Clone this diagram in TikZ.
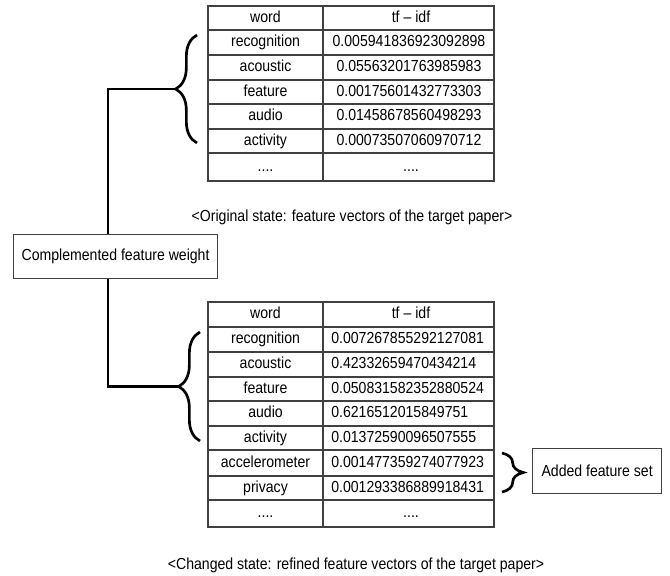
\documentclass[tikz,border=0pt]{standalone}
\usepackage{fontspec}
\setmainfont[FakeStretch=0.88]{Liberation Sans}
\usetikzlibrary{decorations.pathreplacing}
\begin{document}
\begin{tikzpicture}[x=0.75pt,y=-0.75pt,
  grid/.style={draw=black!75, line width=0.9pt},
  cell/.style={inner sep=0pt, text height=9pt, text depth=2.5pt, font=\fontsize{12}{14}\selectfont},
  captext/.style={inner sep=0pt, font=\fontsize{12}{14}\selectfont},
  bracefig/.style={decorate, decoration={brace, amplitude=16pt}, line width=2pt},
  link/.style={line width=1.8pt, line join=miter},
  box/.style={draw=black!75, fill=white, line width=0.9pt, anchor=north west, inner sep=0pt, font=\fontsize{12}{14}\selectfont}]
\useasboundingbox (0,0) rectangle (670,575);

% ---------- top table ----------
\draw[grid] (208,6) rectangle (494,181);
\draw[grid] (323,6) -- (323,181);
\foreach \y in {30,55,80,104,129,153} \draw[grid] (208,\y) -- (494,\y);
\node[cell] (ta0) at (265.5,18) {word};
\node[cell] (tb0) at (411,18) {tf – idf};
\foreach \n/\y/\w/\v in {1/42.5/recognition/0.005941836923092898,
                          2/67.5/acoustic/0.05563201763985983,
                          3/92/feature/0.00175601432773303,
                          4/116.5/audio/0.01458678560498293,
                          5/141/activity/0.00073507060970712}{
  \node[cell] (ta\n) at (265.5,\y) {\w};
  \node[cell] (tb\n) at (409,\y) {\v};
}
\node[cell] (ta6) at (265.5,167) {....};
\node[cell] (tb6) at (411,167) {....};

% ---------- bottom table ----------
\draw[grid] (208,302) rectangle (494,527);
\draw[grid] (323,302) -- (323,527);
\foreach \y in {327,352,377,401,426,450,476,500} \draw[grid] (208,\y) -- (494,\y);
\node[cell] (ba0) at (265.5,314.5) {word};
\node[cell] (bb0) at (411,314.5) {tf – idf};
\foreach \n/\y/\w/\v in {1/339.5/recognition/0.007267855292127081,
                          2/364.5/acoustic/0.42332659470434214,
                          3/389/feature/0.050831582352880524,
                          4/413.5/audio/0.6216512015849751,
                          5/438/activity/0.01372590096507555,
                          6/463/accelerometer/0.001477359274077923,
                          7/488/privacy/0.001293386889918431}{
  \node[cell] (ba\n) at (265.5,\y) {\w};
  \node[cell, anchor=west] (bb\n) at (331,\y) {\v};
}
\node[cell] (ba8) at (265.5,513.5) {....};
\node[cell] (bb8) at (411,513.5) {....};

% ---------- captions ----------
\node[captext] (cap1) at (352,217) {<Original state: feature vectors of the target paper>};
\node[captext] (cap2) at (356,565) {<Changed state: refined feature vectors of the target paper>};

% ---------- braces ----------
\draw[bracefig] (197,143) -- (197,35);
\coordinate (bt1) at (176,89);
\draw[bracefig] (200,441) -- (200,332);
\coordinate (bt2) at (179,386.5);
\draw[bracefig] (502,453) -- (502,492);

% ---------- connector and boxes ----------
\coordinate (j1) at (108,89);
\coordinate (j2) at (108,386.5);
\draw[link] (bt1) -- (j1) -- (j2) -- (bt2);
\node[box, minimum width=153pt, minimum height=33pt] (cfw) at (13,234) {Complemented feature weight};
\node[box, minimum width=96.75pt, minimum height=33.75pt] (afs) at (532,448) {Added feature set};
\end{tikzpicture}
\end{document}
